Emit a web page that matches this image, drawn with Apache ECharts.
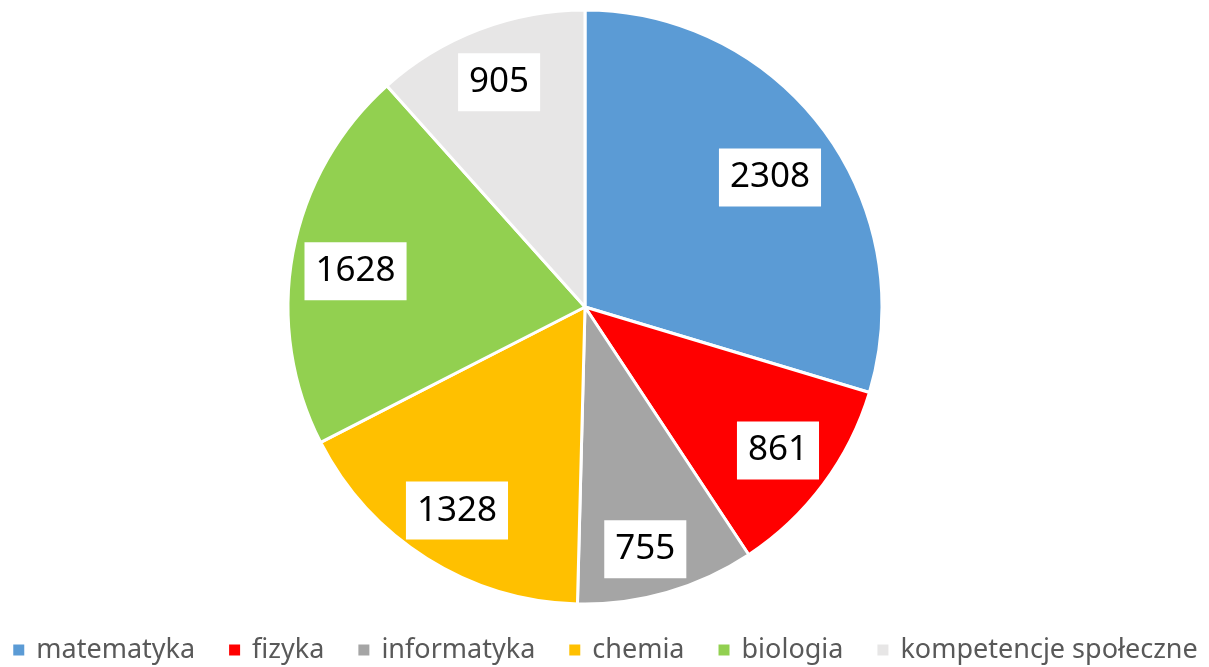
<!DOCTYPE html>
<html><head><meta charset="utf-8">
<script src="https://cdn.jsdelivr.net/npm/echarts@6/dist/echarts.min.js"></script>
<style>html,body{margin:0;padding:0;background:#fff}#c{width:1209px;height:667px}</style>
</head><body><div id="c"></div>
<script>
const categories = ['matematyka','fizyka','informatyka','chemia','biologia','kompetencje społeczne'];
const values = [2308, 861, 755, 1328, 1628, 905];
const colors = ['#5B9BD5','#FF0000','#A5A5A5','#FFC000','#92D050','#E7E6E6'];
const labelShift = {0:[-8,14], 2:[-6,11], 4:[7,8]};
const data = categories.map((n,i)=>({name:n,value:values[i]}));
const chart = echarts.init(document.getElementById('c'));
chart.setOption({
  animation:false,
  color: colors,
  legend:{
    data: categories, left:'center', top:630, icon:'rect', itemWidth:13, itemHeight:13, itemGap:32,
    textStyle:{fontFamily:'Noto Sans', fontSize:27, lineHeight:30, color:'#595959', padding:[0,0,0,6]}
  },
  series:[
    {type:'pie', center:[585,307], radius:[0,297], startAngle:90, clockwise:true,
     data: data, label:{show:false}, labelLine:{show:false},
     itemStyle:{borderColor:'#fff', borderWidth:3}, emphasis:{disabled:true}},
    {type:'pie', center:[585,307], radius:[178,297], startAngle:90, clockwise:true, silent:true,
     data: data, itemStyle:{color:'rgba(0,0,0,0)'}, labelLine:{show:false},
     label:{show:true, position:'inside', formatter:'{c}', fontFamily:'Noto Sans', fontSize:35, color:'#000',
       backgroundColor:'#fff', padding:[8,11,6,11], lineHeight:44},
     labelLayout:function(p){const s=labelShift[p.dataIndex]; return s?{dx:s[0],dy:s[1]}:{};},
     emphasis:{disabled:true}}
  ]
});
</script></body></html>
